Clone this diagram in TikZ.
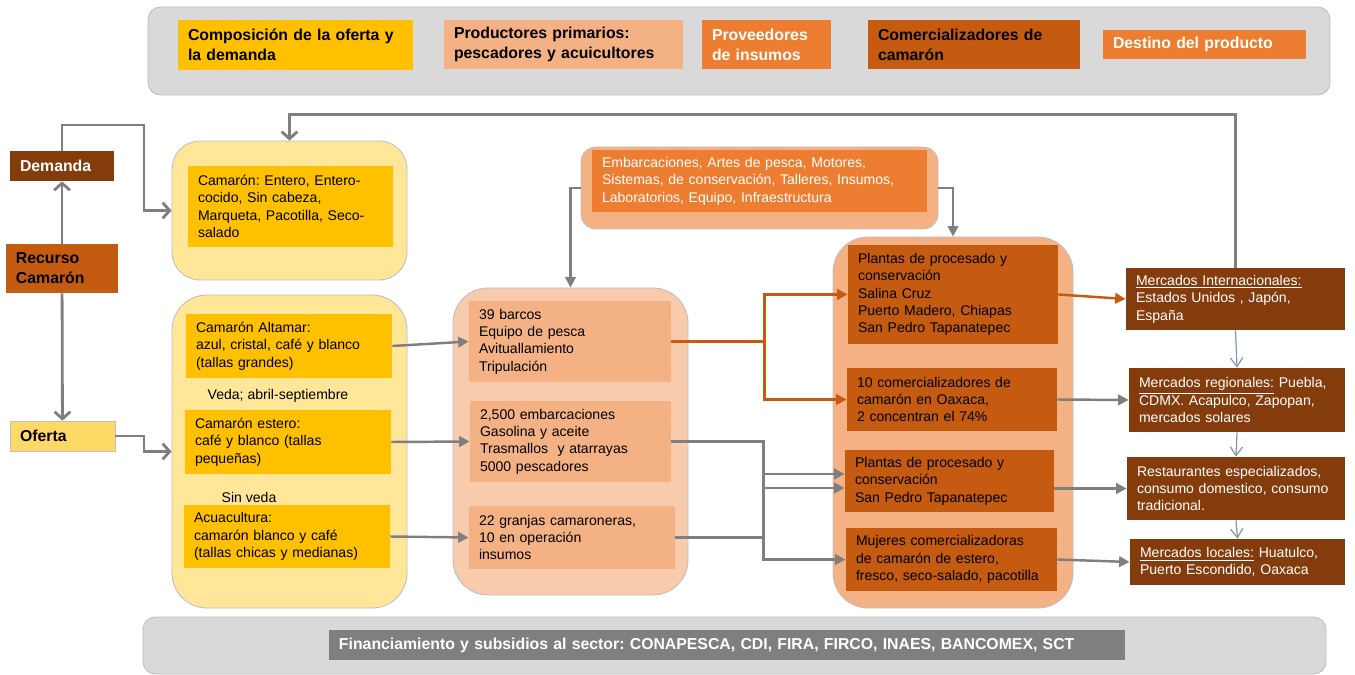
\documentclass[tikz,border=0pt]{standalone}
\usepackage{fontspec}
\setmainfont{Liberation Sans}
\usepackage{tikz}
\usetikzlibrary{arrows.meta,calc}
\usepackage{xcolor}
\frenchspacing

\definecolor{oro}{HTML}{FFC000}
\definecolor{crema}{HTML}{FFE699}
\definecolor{amarillo}{HTML}{FFD966}
\definecolor{salmon}{HTML}{F4B183}
\definecolor{durazno}{HTML}{F8CBAD}
\definecolor{naranja}{HTML}{ED7D31}
\definecolor{oxido}{HTML}{C55A11}
\definecolor{cafe}{HTML}{843C0C}
\definecolor{linea}{HTML}{7F7F7F}
\definecolor{azulgris}{HTML}{8497B0}
\definecolor{fondo}{HTML}{D9D9D9}
\definecolor{borde}{HTML}{BFBFBF}

\begin{document}
\begin{tikzpicture}[
  x=0.02cm,
  y=-0.02cm,
  font=\fontsize{8}{9.9}\selectfont,
  sz/.code 2 args={%
    \pgfmathsetmacro\cajaw{#1*0.02}%
    \pgfmathsetmacro\cajat{(#1-20)*0.02}%
    \pgfmathsetmacro\cajah{#2*0.02}%
    \edef\cajatmp{\noexpand\tikzset{minimum width=\cajaw cm,
      text width=\cajat cm, minimum height=\cajah cm}}\cajatmp},
  caja/.style={rectangle, inner xsep=0.2cm, inner ysep=0pt, align=left},
  etiq/.style={caja, font=\fontsize{9}{11.3}\selectfont\bfseries},
  grupo/.style={rectangle, rounded corners=#1, draw=borde,
    line width=0.5pt, inner sep=0pt},
  gline/.style={draw=linea, line width=1.4pt},
  garrow/.style={gline, -{Triangle[length=6pt,width=6pt]}},
  gbarb/.style={draw=linea, line width=1.6pt,
    -{Straight Barb[length=4pt,width=9pt]}},
  oline/.style={draw=oxido, line width=1.4pt},
  oarrow/.style={oline, -{Triangle[length=6pt,width=6pt]}},
  barrow/.style={draw=azulgris, line width=0.7pt,
    -{Straight Barb[length=5pt,width=7pt]}}
]
  \useasboundingbox (0,0) rectangle (1355,675);

  % Legend bar.
  \node[grupo=0.25cm, fill=fondo, sz={1182}{88}] (barTop) at (739,51) {};
  \node[etiq, fill=oro, sz={235}{50}] (lgComp) at (295.5,45)
    {Composición de la oferta y\\la demanda};
  \node[etiq, fill=salmon, sz={239}{49}] (lgProd) at (563.5,44.5)
    {Productores primarios:\\pescadores y acuicultores};
  \node[etiq, fill=naranja, text=white, sz={129}{49}] (lgProv) at (766.5,44.5)
    {Proveedores\\de insumos};
  \node[etiq, fill=oxido, sz={212}{49}] (lgCom) at (974,44.5)
    {Comercializadores de\\camarón};
  \node[etiq, fill=naranja, text=white, sz={203}{29}] (lgDest) at (1204.5,44.5)
    {Destino del producto};

  % Resource, demand and supply.
  \node[etiq, fill=cafe, text=white, sz={104}{30}] (demanda) at (62,166)
    {Demanda};
  \node[etiq, fill=oxido, sz={112}{49}] (recurso) at (62,268.5)
    {Recurso\\Camarón};
  \node[etiq, fill=amarillo, draw=borde, sz={105}{30}] (oferta) at (62.5,436)
    {Oferta};

  % Group backgrounds.
  \node[grupo=0.56cm, fill=crema, sz={235}{139}] (grpDem) at (289.5,210.5) {};
  \node[grupo=0.7cm, fill=crema, sz={235}{313}] (grpOf) at (289.5,451.5) {};
  \node[grupo=0.3cm, fill=salmon, sz={357}{82}] (grpIns) at (759.5,188) {};
  \node[grupo=0.7cm, fill=durazno, sz={235}{307}] (grpProd) at (570.5,441.5) {};
  \node[grupo=0.7cm, fill=salmon, sz={240}{371}] (grpCom) at (953,422.5) {};

  % Composition of supply and demand.
  \node[caja, fill=oro, sz={205}{81}] (tipos) at (290.5,206.5)
    {Camarón: Entero, Entero-\\cocido, Sin cabeza,\\Marqueta, Pacotilla, Seco-\\salado};
  \node[caja, fill=oro, sz={206}{64}] (altamar) at (289,346)
    {Camarón Altamar:\\azul, cristal, café y blanco\\(tallas grandes)};
  \node (veda) at (278,396) {Veda; abril-septiembre};
  \node[caja, fill=oro, sz={206}{64}] (estero) at (288,442)
    {Camarón estero:\\café y blanco (tallas\\pequeñas)};
  \node (sinveda) at (249,497) {Sin veda};
  \node[caja, fill=oro, sz={206}{63}] (acua) at (287,536.5)
    {Acuacultura:\\camarón blanco y café\\(tallas chicas y medianas)};

  % Suppliers and producers.
  \node[caja, fill=naranja, text=white, sz={335}{62}] (insumos) at (759.5,181)
    {Embarcaciones, Artes de pesca, Motores,\\Sistemas, de conservación, Talleres, Insumos,\\Laboratorios, Equipo, Infraestructura};
  \node[caja, fill=salmon, sz={202}{81}] (barcos) at (570,341.5)
    {39 barcos\\Equipo de pesca\\Avituallamiento\\Tripulación};
  \node[caja, fill=salmon, sz={201}{81}] (embarc) at (570.5,441.5)
    {2,500 embarcaciones\\Gasolina y aceite\\Trasmallos~ y atarrayas\\5000 pescadores};
  \node[caja, fill=salmon, sz={206}{63}] (granjas) at (572,537.5)
    {22 granjas camaroneras,\\10 en operación\\insumos};

  % Traders.
  \node[caja, fill=oxido, sz={210}{99}] (plantasA) at (953,294.5)
    {Plantas de procesado y\\conservación\\Salina Cruz\\Puerto Madero, Chiapas\\San Pedro Tapanatepec};
  \node[caja, fill=oxido, sz={210}{63}] (comer10) at (952,399.5)
    {10 comercializadores de\\camarón en Oaxaca,\\2 concentran el 74\%};
  \node[caja, fill=oxido, sz={209}{62}] (plantasB) at (949.5,481)
    {Plantas de procesado y\\conservación\\San Pedro Tapanatepec};
  \node[caja, fill=oxido, sz={211}{63}] (mujeres) at (951.5,559.5)
    {Mujeres comercializadoras\\de camarón de estero,\\fresco, seco-salado, pacotilla};

  % Destinations.
  \node[caja, fill=cafe, text=white, sz={219}{62}] (mInt) at (1235.5,299)
    {\underline{Mercados Internacionales:}\\Estados Unidos , Japón,\\España};
  \node[caja, fill=cafe, text=white, sz={216}{64}] (mReg) at (1237,400)
    {\underline{Mercados regionales:} Puebla,\\CDMX. Acapulco, Zapopan,\\mercados solares};
  \node[caja, fill=cafe, text=white, sz={218}{63}] (rest) at (1236,488.5)
    {Restaurantes especializados,\\consumo domestico, consumo\\tradicional.};
  \node[caja, fill=cafe, text=white, sz={215}{46}] (mLoc) at (1237.5,562)
    {\underline{Mercados locales:} Huatulco,\\Puerto Escondido, Oaxaca};

  % Financing bar.
  \node[grupo=0.25cm, fill=fondo, sz={1183}{57}] (barBot) at (734.5,645.5) {};
  \node[etiq, fill=linea, text=white, sz={796}{30}] (finan) at (727,645)
    {Financiamiento y subsidios al sector: CONAPESCA, CDI, FIRA, FIRCO, INAES, BANCOMEX, SCT};

  % Connectors on the left.
  \draw[gbarb] (recurso) -- (demanda);
  \draw[gbarb] (recurso) -- (oferta);
  \draw[gbarb] (demanda.north) |- (144,125) |- (grpDem.west);
  \draw[gbarb] (oferta.east) -- (144,436) |- (grpOf.west);
  \draw[gbarb] (mInt.north) -- ++(0,-153) -| (grpDem.north);

  % Connectors to producers.
  \draw[garrow] (altamar.east) -- (barcos.west);
  \draw[garrow] (estero.east) -- (embarc.west);
  \draw[garrow] (acua.east) -- (granjas.west);
  \draw[garrow] (grpIns.west) -| (grpProd.north);
  \draw[garrow] (grpIns.east) -| (grpCom.north);

  % Connectors to traders.
  \draw[oline] (barcos.east) -- ++(93,0) coordinate (jA);
  \draw[oarrow] (jA) |- (plantasA.west);
  \draw[oarrow] (jA) |- (comer10.west);
  \draw[garrow] (embarc.east) -- ++(92,0) coordinate (jB) |- (mujeres.west);
  \draw[gline] (granjas.east) -- (granjas.east -| jB);
  \draw[garrow] ($(jB |- plantasB.west)+(0,-7)$) -- ($(plantasB.west)+(0,-7)$);
  \draw[garrow] ($(jB |- plantasB.west)+(0,7)$) -- ($(plantasB.west)+(0,7)$);

  % Connectors to destinations.
  \draw[oarrow] (plantasA.east) -- (mInt.west);
  \draw[garrow] (comer10.east) -- (mReg.west);
  \draw[garrow] (plantasB.east |- rest.west) -- (rest.west);
  \draw[garrow] (mujeres.east) -- (mLoc.west);
  \draw[barrow] (mInt.south) -- (mReg.north);
  \draw[barrow] (mReg.south) -- (rest.north);
  \draw[barrow] (rest.south) -- (mLoc.north);
\end{tikzpicture}
\end{document}
